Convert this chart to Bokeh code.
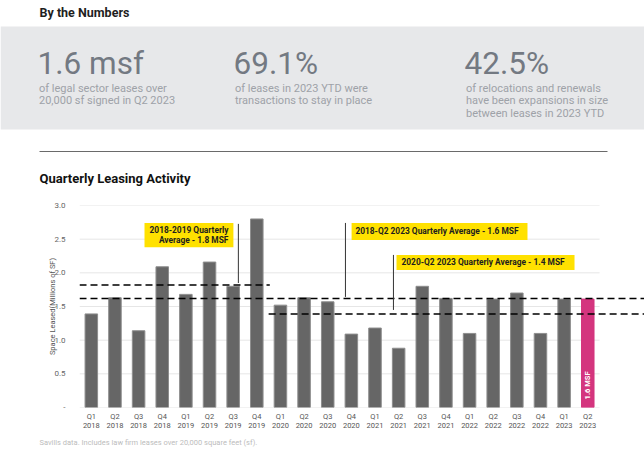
import math
from bokeh.plotting import figure
from bokeh.models import Range1d, FixedTicker, LinearAxis, Label, BoxAnnotation
from bokeh.layouts import column
from bokeh.embed import file_html
from bokeh.resources import INLINE
from bokeh.core.properties import value

# ---------------- data ----------------
quarters = ["Q1", "Q2", "Q3", "Q4"] * 5 + ["Q1", "Q2"]
years = ["2018"] * 4 + ["2019"] * 4 + ["2020"] * 4 + ["2021"] * 4 + ["2022"] * 4 + ["2023"] * 2
space_leased = [1.39, 1.63, 1.14, 2.09, 1.68, 2.16, 1.80, 2.80,
                1.52, 1.63, 1.57, 1.09, 1.18, 0.88, 1.80, 1.62,
                1.10, 1.61, 1.70, 1.10, 1.61, 1.61]
y_ticks = [0.0, 0.5, 1.0, 1.5, 2.0, 2.5, 3.0]
y_tick_labels = ["-", "0.5", "1.0", "1.5", "2.0", "2.5", "3.0"]

avg_values = [1.82, 1.62, 1.39]
avg_from = ["Q1 2018", "Q1 2018", "Q1 2020"]
avg_to = ["Q4 2019", "Q2 2023", "Q2 2023"]

stat_values = ["1.6 msf", "69.1%", "42.5%"]
stat_texts = [
    ["of legal sector leases over", "20,000 sf signed in Q2 2023"],
    ["of leases in 2023 YTD were", "transactions to stay in place"],
    ["of relocations and renewals", "have been expansions in size", "between leases in 2023 YTD"],
]

FONT = "Roboto"
W = 644
H_HDR, H_CH, H_FT = 190, 246, 13

# ---------------- header ----------------
hdr = figure(width=W, height=H_HDR, x_range=Range1d(0, W), y_range=Range1d(H_HDR, 0),
             output_backend="svg", toolbar_location=None, x_axis_location=None,
             y_axis_location=None, min_border=0, outline_line_color=None, frame_align=False)
hdr.grid.visible = False
hdr.add_layout(BoxAnnotation(left=0, right=W, top=26, bottom=129,
                             fill_color="#e7e8ea", fill_alpha=1, line_color=None, level="underlay"))
hdr.add_layout(Label(x=39, y=11.5, text="By the Numbers", text_font=FONT, text_font_size="12.5px",
                     text_font_style="bold", text_color="#1e1e1e", text_baseline="middle"))
big_x = [37, 233, 464]
for cx, big, lines in zip(big_x, stat_values, stat_texts):
    hdr.add_layout(Label(x=cx, y=63, text=big, text_font=FONT, text_font_size="31.5px",
                         text_color="#737982", text_baseline="middle"))
    for k, ln in enumerate(lines):
        hdr.add_layout(Label(x=cx + 1.5, y=87.5 + 12.5 * k, text=ln, text_font=FONT,
                             text_font_size="11px", text_color="#9ea2a8",
                             text_baseline="middle"))
hdr.segment(x0=[39], x1=[607], y0=[151], y1=[151], line_color="#6a6a6a", line_width=1)
hdr.add_layout(Label(x=39, y=178, text="Quarterly Leasing Activity", text_font=FONT,
                     text_font_size="13px", text_font_style="bold", text_color="#111111",
                     text_baseline="middle"))

# ---------------- chart ----------------
n = len(space_leased)
idx = list(range(n))
keys = [f"{q} {y}" for q, y in zip(quarters, years)]
x_end = 23.4

ch = figure(width=W, height=H_CH, x_range=Range1d(-0.5, x_end), y_range=Range1d(0, 3.0),
            output_backend="svg", toolbar_location=None, x_axis_location=None,
            min_border_left=79, min_border_right=0, min_border_top=15, min_border_bottom=29,
            outline_line_color=None, frame_align=False)
ch.xgrid.visible = False
ch.ygrid.visible = False

# grid lines limited to the bar area
ch.segment(x0=[-0.5] * len(y_ticks), x1=[n - 0.5] * len(y_ticks), y0=y_ticks, y1=y_ticks,
           line_color="#e6e6e6", line_width=1, level="underlay")

bar_fill = ["#666666"] * (n - 1) + ["#d4357e"]
bar_line = ["#8e8e8e"] * (n - 1) + ["#d4357e"]
ch.vbar(x=idx, top=space_leased, width=0.53, fill_color=bar_fill, line_color=bar_line, line_width=1)

ch.text(x=[idx[-1]], y=[0.12], text=[f"{space_leased[-1]:.1f} MSF"], angle=math.pi / 2,
        text_color="white", text_font=value(FONT), text_font_size="7.5px",
        text_font_style="bold", text_align="left", text_baseline="middle")

# average dashed lines
for v, a, b in zip(avg_values, avg_from, avg_to):
    i0, i1 = keys.index(a), keys.index(b)
    x1 = x_end if i1 == n - 1 else i1 + 0.55
    ch.segment(x0=[i0 - 0.5], x1=[x1], y0=[v], y1=[v], line_color="black",
               line_width=1.5, line_dash="7 4")

# annotation boxes and leader lines
YEL = "#ffe100"
ch.add_layout(BoxAnnotation(left=2.25, right=6.01, top=2.74, bottom=2.38,
                            fill_color=YEL, fill_alpha=1, line_color=None))
ch.add_layout(BoxAnnotation(left=11.01, right=18.45, top=2.741, bottom=2.489,
                            fill_color=YEL, fill_alpha=1, line_color=None))
ch.add_layout(BoxAnnotation(left=12.91, right=20.44, top=2.266, bottom=2.043,
                            fill_color=YEL, fill_alpha=1, line_color=None))
lbl = dict(text_font=FONT, text_font_size="8.4px", text_font_style="bold",
           text_color="#1e1e1e", text_baseline="middle")
ch.add_layout(Label(x=5.80, y=2.637, text="2018-2019 Quarterly", text_align="right", **lbl))
ch.add_layout(Label(x=5.80, y=2.494, text="Average - 1.8 MSF", text_align="right", **lbl))
ch.add_layout(Label(x=11.17, y=2.615, text="2018-Q2 2023 Quarterly Average - 1.6 MSF",
                    text_align="left", **lbl))
ch.add_layout(Label(x=13.12, y=2.155, text="2020-Q2 2023 Quarterly Average - 1.4 MSF",
                    text_align="left", **lbl))
ch.segment(x0=[6.22, 10.75, 12.78], x1=[6.22, 10.75, 12.78],
           y0=[2.727, 2.741, 2.266], y1=[1.849, 1.642, 1.449],
           line_color="#333333", line_width=1)

# axes
ya = ch.yaxis[0]
ya.ticker = FixedTicker(ticks=y_ticks)
ya.major_label_overrides = {t: s for t, s in zip(y_ticks, y_tick_labels)}
ya.axis_line_color = None
ya.major_tick_line_color = None
ya.minor_tick_line_color = None
ya.major_label_standoff = 8
ya.major_label_text_font = FONT
ya.major_label_text_font_size = "8px"
ya.major_label_text_color = "#666666"
ya.axis_label = "Space Leased(Millions of SF)"
ya.axis_label_text_font = FONT
ya.axis_label_text_font_size = "7.5px"
ya.axis_label_text_font_style = "normal"
ya.axis_label_text_color = "#555555"
ya.axis_label_standoff = -6

for labels, standoff in ((quarters, -2), (years, -7)):
    ax = LinearAxis(ticker=FixedTicker(ticks=idx),
                    major_label_overrides={i: s for i, s in zip(idx, labels)})
    ax.axis_line_color = None
    ax.major_tick_line_color = None
    ax.minor_tick_line_color = None
    ax.major_label_standoff = standoff
    ax.major_label_text_font = FONT
    ax.major_label_text_font_size = "7.5px"
    ax.major_label_text_color = "#555555"
    ch.add_layout(ax, "below")

# ---------------- footnote ----------------
ft = figure(width=W, height=H_FT, x_range=Range1d(0, W), y_range=Range1d(0, H_FT),
            output_backend="svg", toolbar_location=None, x_axis_location=None,
            y_axis_location=None, min_border=0, outline_line_color=None, frame_align=False)
ft.grid.visible = False
ft.add_layout(Label(x=39, y=7, text="Savills data. Includes law firm leases over 20,000 square feet (sf).",
                    text_font=FONT, text_font_size="7.5px", text_color="#bcbcbc",
                    text_baseline="middle"))

layout = column(hdr, ch, ft, spacing=0)
open("out.html", "w").write(file_html(layout, INLINE))
